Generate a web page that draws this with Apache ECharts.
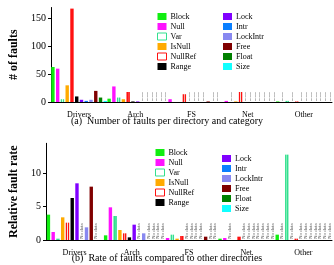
<!DOCTYPE html>
<html>
<head>
<meta charset="UTF-8">
<title>Faults per directory</title>
<script src="https://cdn.jsdelivr.net/npm/echarts@6/dist/echarts.min.js"></script>
<style>
  html, body { margin: 0; padding: 0; background: #fff; }
  #chart { width: 334px; height: 265px; }
</style>
</head>
<body>
<div id="chart"></div>
<script>
// directories on the x axis
const groups = ['Drivers', 'Arch', 'FS', 'Net', 'Other'];
const cats = ['Block', 'Null', 'Var', 'IsNull', 'NullRef', 'Range',
              'Lock', 'Intr', 'LockIntr', 'Free', 'Float', 'Size'];

// (a) number of faults, null = "No data"
const cntBlock    = [63, 6, null, 0, 1];
const cntNull     = [60, 28, 5, 2, null];
const cntVar      = [5, 8, 0, null, 2];
const cntIsNull   = [30, 5, 0, 1, null];
const cntNullRef  = [168, 18, 14, 18, 1];
const cntRange    = [10, 1, null, null, null];
const cntLock     = [4, 1, null, null, null];
const cntIntr     = [2, null, null, null, null];
const cntLockIntr = [4, null, null, null, null];
const cntFree     = [20, null, 1, null, null];
const cntFloat    = [8, null, null, null, null];
const cntSize     = [2, null, null, null, null];

// (b) relative fault rate
const rateBlock    = [3.8, 0.7, null, 0.2, 0.8];
const rateNull     = [1.2, 4.9, 0.3, 0.3, null];
const rateVar      = [0.2, 3.6, 0.8, null, 12.8];
const rateIsNull   = [3.4, 1.5, 0.2, 0, null];
const rateNullRef  = [2.6, 1.0, 0.6, 0.5, 0.2];
const rateRange    = [6.3, 0.4, null, null, null];
const rateLock     = [8.5, 2.3, null, null, null];
const rateIntr     = [null, null, null, null, null];
const rateLockIntr = [1.9, 1.0, null, null, null];
const rateFree     = [8.0, null, 0.5, null, null];
const rateFloat    = [null, null, null, null, null];
const rateSize     = [0, null, null, null, null];

const countTicks = [0, 50, 100, 150];
const rateTicks = [0, 5, 10];

const countRows = [cntBlock, cntNull, cntVar, cntIsNull, cntNullRef, cntRange,
                   cntLock, cntIntr, cntLockIntr, cntFree, cntFloat, cntSize];
const rateRows = [rateBlock, rateNull, rateVar, rateIsNull, rateNullRef, rateRange,
                  rateLock, rateIntr, rateLockIntr, rateFree, rateFloat, rateSize];

const colors = ['#11ee11', '#ff11ff', '#33e08f', '#ffaa00', '#ff1111', '#000000',
                '#8000ff', '#0a7fff', '#8888f0', '#800000', '#008000', '#11ffff'];
const serif = 'Liberation Serif';

// coloured bar with a thin light stripe down the middle
function striped(c) {
  return {
    type: 'linear', x: 0, y: 0, x2: 1, y2: 0,
    colorStops: [
      { offset: 0, color: c }, { offset: 0.38, color: c },
      { offset: 0.5, color: '#e8fff0' },
      { offset: 0.62, color: c }, { offset: 1, color: c }
    ]
  };
}

function styleFor(i) {
  if (cats[i] === 'Var' || cats[i] === 'NullRef') return { color: striped(colors[i]) };
  return { color: colors[i] };
}

function makeSeries(rows, axis, ndSize) {
  return rows.map((vals, i) => ({
    name: cats[i],
    type: 'bar',
    xAxisIndex: axis,
    yAxisIndex: axis,
    barWidth: 3.4,
    barGap: '40%',
    itemStyle: styleFor(i),
    label: {
      show: false, position: 'top', rotate: 90, align: 'left',
      verticalAlign: 'middle', distance: 1, formatter: 'No data',
      fontSize: ndSize, color: '#555', fontFamily: serif
    },
    data: vals.map(v => v === null ? { value: 0, label: { show: true } } : v)
  }));
}

function legendItem(n) {
  const i = cats.indexOf(n);
  if (n === 'Var' || n === 'NullRef') {
    return { name: n, itemStyle: { color: '#fff', borderColor: colors[i], borderWidth: 1 } };
  }
  return { name: n, itemStyle: { color: colors[i] } };
}

function legend(names, left, top) {
  return {
    orient: 'vertical', left: left, top: top,
    itemWidth: 9, itemHeight: 7, itemGap: 2, padding: 0,
    icon: 'rect',
    selectedMode: false,
    textStyle: { fontFamily: serif, fontSize: 8, color: '#000', padding: [0, 0, 0, -1] },
    data: names.map(legendItem)
  };
}

function xAxis(grid) {
  return {
    type: 'category', gridIndex: grid, data: groups,
    axisLine: { lineStyle: { color: '#000', width: 1 } },
    axisTick: { length: 6, lineStyle: { color: '#000' } },
    axisLabel: { fontFamily: serif, fontSize: 8, color: '#000', margin: 9 }
  };
}

function yAxis(grid, max, ticks, name, gap) {
  return {
    type: 'value', gridIndex: grid, min: 0, max: max,
    name: name, nameLocation: 'middle', nameGap: gap,
    nameTextStyle: { fontFamily: serif, fontSize: 12, fontWeight: 'bold', color: '#000' },
    axisLine: { show: true, lineStyle: { color: '#000', width: 1 } },
    axisTick: { show: true, length: 3, customValues: ticks, lineStyle: { color: '#000' } },
    axisLabel: { fontFamily: serif, fontSize: 10, color: '#000', margin: 5, customValues: ticks },
    splitLine: { show: false }
  };
}

const chart = echarts.init(document.getElementById('chart'), null, { renderer: 'canvas' });
chart.setOption({
  animation: false,
  backgroundColor: '#fff',
  title: [
    { text: '(a)  Number of faults per directory and category', left: 'center', top: 116,
      padding: 0, textStyle: { fontFamily: serif, fontSize: 10, fontWeight: 'normal', color: '#000' } },
    { text: '(b)  Rate of faults compared to other directories', left: 'center', top: 253,
      padding: 0, textStyle: { fontFamily: serif, fontSize: 10, fontWeight: 'normal', color: '#000' } }
  ],
  legend: [
    legend(cats.slice(0, 6), 157, 12.5),
    legend(cats.slice(6), 223, 12.5),
    legend(cats.slice(0, 6), 155, 148.5),
    legend(cats.slice(6), 222, 154.5)
  ],
  grid: [
    { left: 47, right: 2, top: 7.5, height: 94.5 },
    { left: 44, right: 2, top: 143.3, height: 96.7 }
  ],
  xAxis: [xAxis(0), xAxis(1)],
  yAxis: [
    yAxis(0, 170, countTicks, '# of faults', 31),
    yAxis(1, 14.5, rateTicks, 'Relative fault rate', 26)
  ],
  series: makeSeries(countRows, 0, 2.8).concat(makeSeries(rateRows, 1, 5))
});
</script>
</body>
</html>
